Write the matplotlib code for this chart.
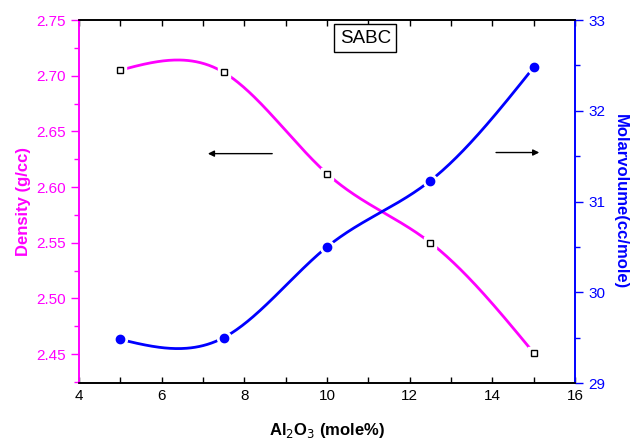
import numpy as np
import matplotlib
matplotlib.use("Agg")
import matplotlib.pyplot as plt

plt.rcParams['font.family'] = ['Liberation Sans', 'DejaVu Sans']

# data
al2o3 = [5, 7.5, 10, 12.5, 15]
density = [2.705, 2.703, 2.612, 2.550, 2.451]
molar_volume = [29.48, 29.50, 30.50, 31.23, 32.48]


# natural cubic spline, like the smooth curve of the original
def spline(x, y, n=300):
    x = np.asarray(x, float)
    y = np.asarray(y, float)
    k = len(x)
    h = np.diff(x)
    A = np.zeros((k, k))
    r = np.zeros(k)
    A[0, 0] = A[-1, -1] = 1
    for i in range(1, k - 1):
        A[i, i - 1] = h[i - 1]
        A[i, i] = 2 * (h[i - 1] + h[i])
        A[i, i + 1] = h[i]
        r[i] = 6 * ((y[i + 1] - y[i]) / h[i] - (y[i] - y[i - 1]) / h[i - 1])
    M = np.linalg.solve(A, r)
    xs = np.linspace(x[0], x[-1], n)
    ys = np.empty_like(xs)
    for j, xv in enumerate(xs):
        i = min(np.searchsorted(x, xv, side='right') - 1, k - 2)
        a = x[i + 1] - xv
        b = xv - x[i]
        ys[j] = (M[i] * a**3 + M[i + 1] * b**3) / (6 * h[i]) \
            + (y[i] / h[i] - M[i] * h[i] / 6) * a \
            + (y[i + 1] / h[i] - M[i + 1] * h[i] / 6) * b
    return xs, ys


fig = plt.figure(figsize=(6.32, 4.41), dpi=100)
ax = fig.add_axes([0.125, 0.1315, 0.785, 0.8231])
ax2 = ax.twinx()

mag = '#FF00FF'
blu = '#0000FF'

xs, ys = spline(al2o3, density)
ax.plot(xs, ys, color=mag, lw=2.0, zorder=2)
ax.plot(al2o3, density, ls='none', marker='s', ms=9, mfc='white', mec='white', zorder=3)
ax.plot(al2o3, density, ls='none', marker='s', ms=5, mfc='white', mec='black', mew=1, zorder=4)

xs, ys = spline(al2o3, molar_volume)
ax2.plot(xs, ys, color=blu, lw=2.0, zorder=2)
ax2.plot(al2o3, molar_volume, ls='none', marker='o', ms=10, mfc='white', mec='white', zorder=3)
ax2.plot(al2o3, molar_volume, ls='none', marker='o', ms=6, mfc=blu, mec=blu, zorder=4)

ax.set_xlim(4, 16)
ax.set_ylim(2.424, 2.75)
ax2.set_ylim(29, 33)

ax.set_xticks(np.arange(4, 17, 2))
ax.set_xticks(np.arange(4, 17, 1), minor=True)
ax.set_yticks(np.arange(2.45, 2.751, 0.05))
ax.set_yticks(np.arange(2.425, 2.751, 0.025), minor=True)
ax.set_yticklabels(['%.2f' % v for v in np.arange(2.45, 2.751, 0.05)])
ax2.set_yticks([29, 30, 31, 32, 33])
ax2.set_yticks(np.arange(29, 33.01, 0.5), minor=True)

ax.tick_params(axis='x', which='both', direction='in', top=True, length=4.5, width=1, labelsize=11, pad=4)
ax.tick_params(axis='y', which='major', direction='out', length=6, width=1, colors=mag, labelsize=11)
ax.tick_params(axis='y', which='minor', direction='out', length=3.5, width=1, colors=mag)
ax2.tick_params(axis='y', which='major', direction='out', length=6, width=1, colors=blu, labelsize=11)
ax2.tick_params(axis='y', which='minor', direction='out', length=3.5, width=1, colors=blu)
ax2.tick_params(axis='x', top=False)

for a in (ax, ax2):
    for s in a.spines.values():
        s.set_linewidth(1.2)
ax2.spines['left'].set_color(mag)
ax2.spines['right'].set_color(blu)
ax.spines['left'].set_color(mag)
ax.spines['right'].set_color(blu)

ax.set_xlabel('Al$_2$O$_3$ (mole%)', fontsize=12, fontweight='bold', labelpad=13)
ax.set_ylabel('Density (g/cc)', fontsize=12, fontweight='bold', color=mag, labelpad=4)
ax2.set_ylabel('Molarvolume(cc/mole)', fontsize=12, fontweight='bold', color=blu,
               rotation=270, labelpad=16)

# arrows pointing to each axis
ax.annotate('', xy=(7.05, 2.630), xytext=(8.74, 2.630),
            arrowprops=dict(arrowstyle='-|>', color='black', lw=1, mutation_scale=9))
ax.annotate('', xy=(15.2, 2.631), xytext=(14.02, 2.631),
            arrowprops=dict(arrowstyle='-|>', color='black', lw=1, mutation_scale=9))

ax.text(0.577, 0.95, 'SABC', transform=ax.transAxes, ha='center', va='center',
        fontsize=13.5, bbox=dict(boxstyle='square,pad=0.3', fc='white', ec='black', lw=1))

fig.savefig('out.png', dpi=100)
